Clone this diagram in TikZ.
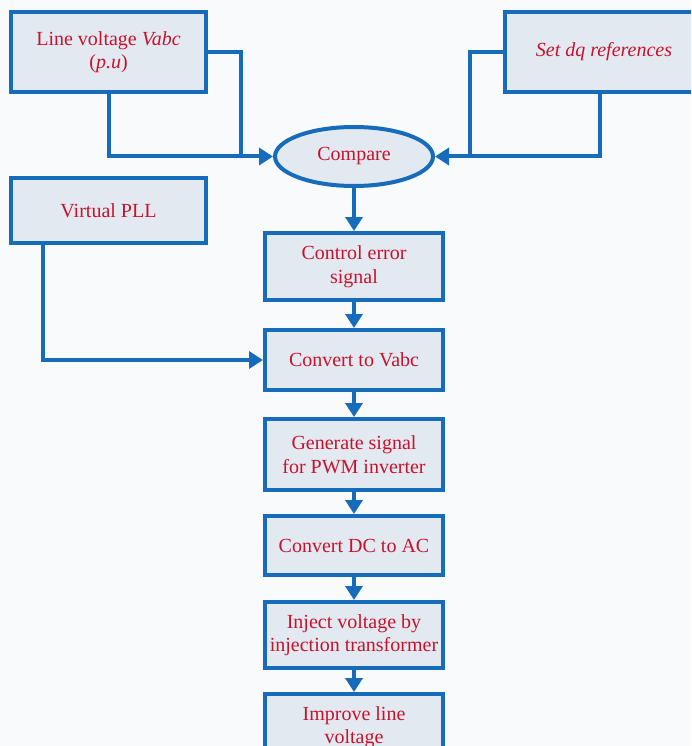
\documentclass[tikz,border=0pt]{standalone}
\usepackage{fontspec}
\setmainfont{Liberation Serif}
\usepackage{xcolor}
\usepackage{tikz}
\usetikzlibrary{shapes.geometric, arrows.meta, positioning}

\definecolor{flowblue}{RGB}{22,108,186}
\definecolor{boxgray}{RGB}{226,233,241}
\definecolor{labelred}{RGB}{200,18,44}
\definecolor{pagebg}{RGB}{249,250,251}

\begin{document}
\begin{tikzpicture}[
    x=1pt, y=-1pt,
    every node/.style={font=\fontsize{20}{23.5}\selectfont, text=labelred},
    stepbox/.style={draw=flowblue, line width=4pt, fill=boxgray, align=center, inner sep=0pt, minimum width=178pt},
    inbox/.style={stepbox, minimum width=195pt, minimum height=80pt},
    cmpnode/.style={ellipse, draw=flowblue, line width=4pt, fill=boxgray, inner sep=0pt, minimum width=158pt, minimum height=59pt},
    wire/.style={draw=flowblue, line width=4pt},
    flow/.style={wire, -{Triangle[length=14pt, width=17pt]}}
]
\useasboundingbox (0,0) rectangle (691,746);
\fill[pagebg] (0,0) rectangle (691,746);
\clip (0,0) rectangle (691,746);

% inputs
\node[inbox] (linev) at (108.5,52) {Line voltage \textit{Vabc}\\(\textit{p.u})};
\node[inbox, minimum width=199pt] (setdq) at (604,52) {\textit{Set dq references}};
\node[inbox, minimum height=65pt] (pll) at (108.5,210.5) {Virtual PLL};
\node[cmpnode] (compare) at (354,156.5) {Compare};

% main chain
\node[stepbox, minimum height=67pt] (ctrlerr) at (354,266.5) {Control error\\signal};
\node[stepbox, minimum height=60pt] (tovabc) at (354,360) {Convert to Vabc};
\node[stepbox, minimum height=71pt] (pwmsig) at (354,454.5) {Generate signal\\for PWM inverter};
\node[stepbox, minimum height=59pt] (dcac) at (354,545.5) {Convert DC to AC};
\node[stepbox, minimum height=66pt] (inject) at (354,635) {Inject voltage by\\injection transformer};
\node[stepbox, minimum height=66pt] (improve) at (354,727) {Improve line\\voltage};

% joins
\coordinate (ljoin) at (241,156.5);
\coordinate (rjoin) at (470,156.5);

\draw[wire] (linev.east) -| (ljoin);
\draw[flow] (linev.south) |- (compare.west);
\draw[wire] (setdq.west) -| (rjoin);
\draw[flow] ([xshift=-4pt]setdq.south) |- (compare.east);
\draw[flow] ([xshift=34pt]pll.south west) |- (tovabc.west);

\draw[flow] (compare) -- (ctrlerr);
\draw[flow] (ctrlerr) -- (tovabc);
\draw[flow] (tovabc) -- (pwmsig);
\draw[flow] (pwmsig) -- (dcac);
\draw[flow] (dcac) -- (inject);
\draw[flow] (inject) -- (improve);
\end{tikzpicture}
\end{document}
